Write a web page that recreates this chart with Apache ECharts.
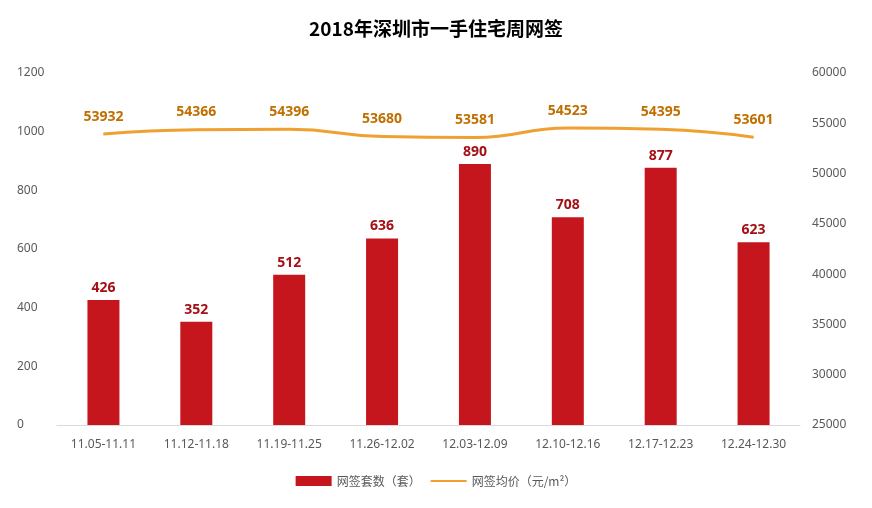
<!DOCTYPE html>
<html><head><meta charset="utf-8">
<script src="https://cdn.jsdelivr.net/npm/echarts@6/dist/echarts.min.js"></script>
<style>html,body{margin:0;padding:0;background:#fff}#c{width:872px;height:508px}</style>
</head><body><div id="c"></div>
<script>
const weeks = ['11.05-11.11','11.12-11.18','11.19-11.25','11.26-12.02','12.03-12.09','12.10-12.16','12.17-12.23','12.24-12.30'];
const signedUnits = [426, 352, 512, 636, 890, 708, 877, 623];
const avgPrice = [53932, 54366, 54396, 53680, 53581, 54523, 54395, 53601];

const chart = echarts.init(document.getElementById('c'));
const axisText = { color: '#595959', fontSize: 12, fontFamily: 'Noto Sans' };
chart.setOption({
  animation: false,
  title: {
    text: '2018年深圳市一手住宅周网签',
    left: 'center', top: 14,
    textStyle: { fontSize: 19, fontWeight: 'bold', color: '#000', fontFamily: 'Noto Sans CJK SC' }
  },
  grid: { left: 57, right: 72, top: 73, bottom: 83 },
  legend: {
    bottom: 16, itemGap: 10, itemWidth: 36, itemHeight: 10,
    textStyle: { color: '#595959', fontSize: 12, fontFamily: 'Noto Sans CJK SC' },
    data: [
      { name: '网签套数（套）', icon: 'rect' },
      { name: '网签均价（元/m²）', icon: 'path://M0,4 L36,4 L36,6 L0,6 Z' }
    ]
  },
  xAxis: {
    type: 'category', data: weeks,
    axisTick: { show: false },
    axisLine: { lineStyle: { color: '#d9d9d9' } },
    axisLabel: { ...axisText, margin: 14 }
  },
  yAxis: [
    { type: 'value', min: 0, max: 1200, interval: 200,
      axisLine: { show: false }, axisTick: { show: false },
      axisLabel: { ...axisText, margin: 40, align: 'left', formatter: v => String(v) },
      splitLine: { show: false } },
    { type: 'value', min: 25000, max: 60000, interval: 5000,
      axisLine: { show: false }, axisTick: { show: false },
      axisLabel: { ...axisText, margin: 12, formatter: v => String(v) },
      splitLine: { show: false } }
  ],
  series: [
    { name: '网签套数（套）', type: 'bar', data: signedUnits, barWidth: 32,
      itemStyle: { color: '#c5161d' },
      label: { show: true, position: 'top', color: '#a50f15', fontSize: 14, fontWeight: 'bold', fontFamily: 'Noto Sans' } },
    { name: '网签均价（元/m²）', type: 'line', yAxisIndex: 1, data: avgPrice, smooth: true,
      symbol: 'circle', symbolSize: 1, showSymbol: true,
      lineStyle: { color: '#f0a030', width: 3 }, itemStyle: { color: '#f0a030' },
      label: { show: true, position: 'top', distance: 10, color: '#c07000', fontSize: 14, fontWeight: 'bold', fontFamily: 'Noto Sans' } }
  ]
});
</script></body></html>
